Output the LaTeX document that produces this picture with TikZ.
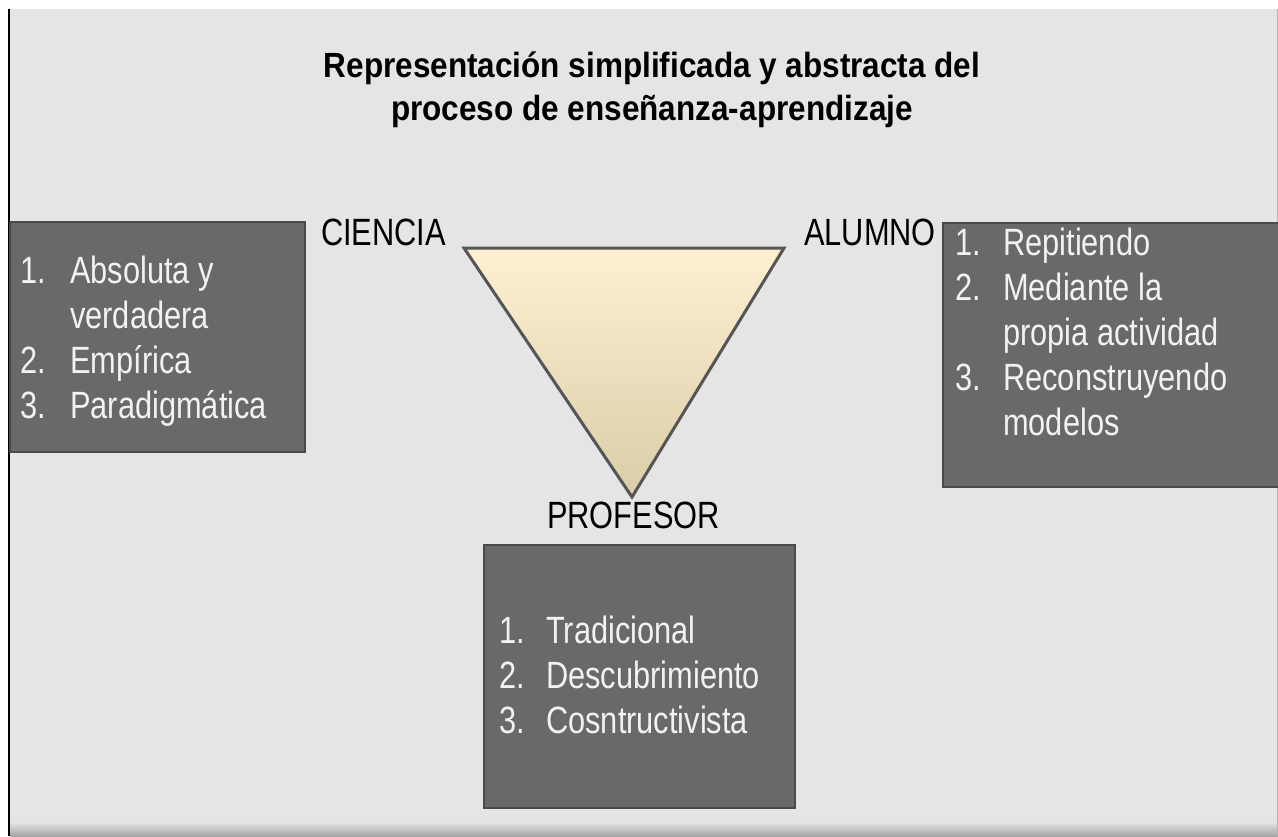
\documentclass[tikz,border=0pt]{standalone}
\usepackage{fontspec}
\usepackage{array}
\newfontfamily\bodyfont{Liberation Sans}[FakeStretch=0.81]
\newfontfamily\titlefont{Liberation Sans}[FakeStretch=0.9]
\definecolor{pagebg}{HTML}{E5E5E5}
\definecolor{boxfill}{HTML}{696969}
\definecolor{boxline}{HTML}{4A4A4A}
\definecolor{itemtext}{HTML}{F2F2F2}
\definecolor{triline}{HTML}{555555}
\definecolor{tritop}{HTML}{FFF0D2}
\definecolor{tribottom}{HTML}{DACDA8}

\begin{document}
\begin{tikzpicture}[
    x=1pt, y=-1pt,
    list_box/.style={draw=boxline, line width=2pt, fill=boxfill},
    item_list/.style={anchor=base west, inner sep=0pt, text=itemtext, font=\bodyfont\fontsize{38}{45}\selectfont},
    vertex_label/.style={anchor=base west, inner sep=0pt, font=\bodyfont\fontsize{38}{45}\selectfont}
]
    \useasboundingbox (0,0) rectangle (1278,836);

    % Background of the slide
    \fill[white] (0,0) rectangle (1278,836);
    \fill[pagebg] (10,9) rectangle (1278,836);
    \shade[top color=pagebg, bottom color=black!35] (10,822) rectangle (1278,836);
    \fill[black] (8,9) rectangle (10,836);
    \draw[black!30] (1277,9) -- (1277,836);

    % Title
    \node[font=\titlefont\bfseries\fontsize{35}{43}\selectfont, align=center, anchor=base, inner sep=0pt] (title) at (652,120)
        {Representación simplificada y abstracta del\\proceso de enseñanza-aprendizaje};

    % Triangle between the three vertices
    \coordinate (ciencia_pt) at (464,248);
    \coordinate (alumno_pt) at (784,248);
    \coordinate (profesor_pt) at (632,497);
    \shadedraw[top color=tritop, bottom color=tribottom, draw=triline, line width=3pt, line join=miter]
        (ciencia_pt) -- (alumno_pt) -- (profesor_pt) -- cycle;

    % Vertex labels
    \node[vertex_label] (ciencia) at (321,245) {CIENCIA};
    \node[vertex_label] (alumno) at (804,245) {ALUMNO};
    \node[vertex_label] (profesor) at (547,528) {PROFESOR};

    % Boxes with the lists
    \draw[list_box] (10,222) rectangle (305,452);
    \draw[list_box] (943,223) rectangle (1290,487);
    \draw[list_box] (484,545) rectangle (795,808);

    \node[item_list] (ciencia_list) at (20,283) {%
        \begin{tabular}[t]{@{}p{50pt}@{}l@{}}
        1. & Absoluta y\\
           & verdadera\\
        2. & Empírica\\
        3. & Paradigmática
        \end{tabular}};
    \node[item_list] (alumno_list) at (955,255) {%
        \begin{tabular}[t]{@{}p{48pt}@{}l@{}}
        1. & Repitiendo\\
        2. & Mediante la\\
           & propia actividad\\
        3. & Reconstruyendo\\
           & modelos
        \end{tabular}};
    \node[item_list] (profesor_list) at (499,643) {%
        \begin{tabular}[t]{@{}p{47pt}@{}l@{}}
        1. & Tradicional\\
        2. & Descubrimiento\\
        3. & Cosntructivista
        \end{tabular}};

\end{tikzpicture}
\end{document}
